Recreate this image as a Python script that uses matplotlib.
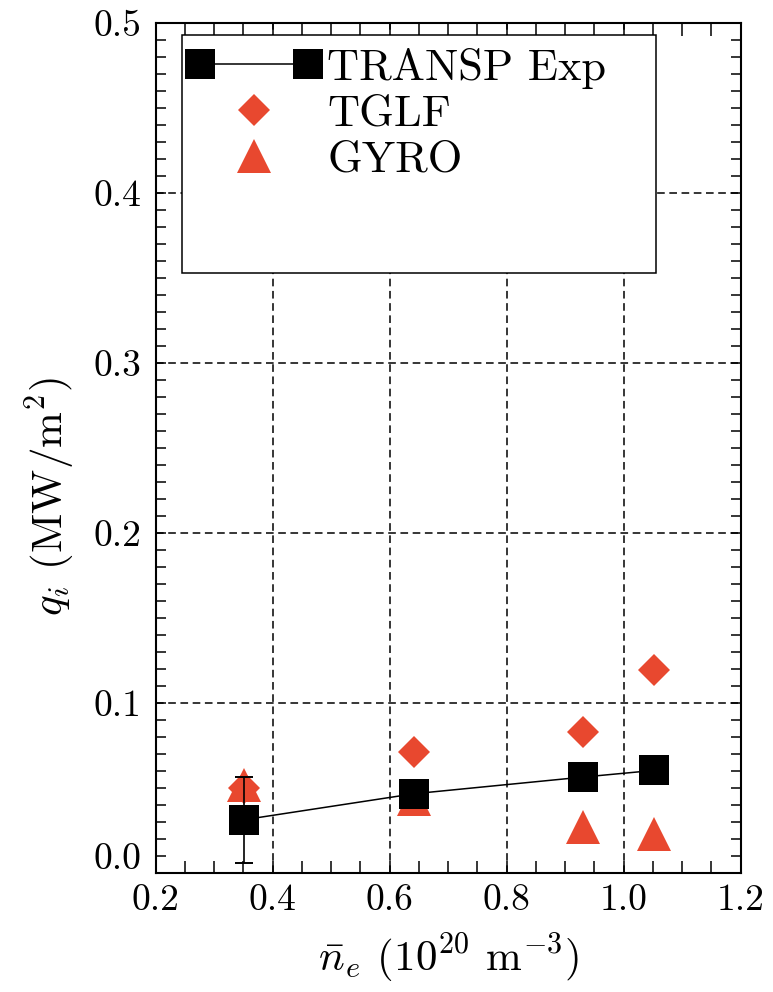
import numpy as np
import matplotlib
matplotlib.use('Agg')
import matplotlib.pyplot as plt
import matplotlib.transforms as mtransforms
from matplotlib.ticker import MultipleLocator
from matplotlib.legend_handler import HandlerLine2D
from matplotlib.patches import Rectangle

plt.rcParams['font.family'] = 'cmr10'
plt.rcParams['mathtext.fontset'] = 'cm'
plt.rcParams['axes.unicode_minus'] = False
plt.rcParams['axes.formatter.use_mathtext'] = True

# line averaged density, 10^20 m^-3
density = [0.351, 0.642, 0.931, 1.052]
# ion heat flux, MW/m^2
q_transp = [0.0313, 0.0466, 0.0564, 0.0603]
q_transp_err = [0.0252, np.nan, np.nan, np.nan]
q_tglf = [0.050, 0.0711, 0.0828, 0.1196]
q_gyro = [0.052, 0.0432, 0.0272, 0.0231]

x_ticks = [0.2, 0.4, 0.6, 0.8, 1.0, 1.2]
x_labels = ['0.2', '0.4', '0.6', '0.8', '1.0', '1.2']
y_ticks = [0.0, 0.1, 0.2, 0.3, 0.4, 0.5]
y_labels = ['0.0', '0.1', '0.2', '0.3', '0.4', '0.5']

red = '#e8482f'

fig = plt.figure(figsize=(7.73, 9.92), dpi=100)
ax = fig.add_axes([0.2014, 0.1200, 0.7568, 0.8572])

h_tglf, = ax.plot(density, q_tglf, ls='none', marker='D', ms=16.8, mew=0,
                  color=red, label='TGLF', zorder=3)
h_gyro, = ax.plot(density, q_gyro, ls='none', marker='^', ms=24.8, mew=0,
                  color=red, label='GYRO', zorder=3)
ax.errorbar(density, q_transp, yerr=q_transp_err, fmt='none', ecolor='black',
            elinewidth=1.2, capsize=6.8, capthick=1.4, zorder=4)
h_exp, = ax.plot(density, q_transp, color='black', lw=1.1, marker='s', ms=21.6,
                 mew=0, label='TRANSP Exp', zorder=4)

ax.set_xlim(0.2, 1.2)
ax.set_ylim(0, 0.5)
ax.set_xticks(x_ticks, labels=x_labels)
ax.set_yticks(y_ticks, labels=y_labels)
ax.xaxis.set_minor_locator(MultipleLocator(0.05))
ax.yaxis.set_minor_locator(MultipleLocator(0.01))

ax.grid(True, which='major', color='black', ls=(0, (5, 3)), lw=1.1)

ax.tick_params(which='both', direction='in', top=True, right=True,
               width=1.1, color='black')
ax.tick_params(axis='x', which='both', length=9)
ax.tick_params(axis='y', which='both', length=7)
ax.tick_params(axis='both', which='major', labelsize=27)
ax.tick_params(axis='y', which='major', pad=10)
ax.tick_params(axis='x', which='major', pad=8)
for s in ax.spines.values():
    s.set_linewidth(1.5)

# the 0.0 label sits a bit higher in the original
zero_label = ax.get_yticklabels()[0]
zero_label.set_transform(zero_label.get_transform() +
                         mtransforms.ScaledTranslation(0, 12 / 72, fig.dpi_scale_trans))

ax.set_ylabel(r'$q_i$ (MW/m$^2$)', fontsize=31, va='center')
ax.yaxis.set_label_coords(-0.181, 0.442)
ax.set_xlabel(r'$\bar{n}_e$ ($10^{20}$ m$^{-3}$)', fontsize=31, va='center')
ax.xaxis.set_label_coords(0.5, -0.1)

# legend box drawn by hand so its size matches
ax.add_patch(Rectangle((0.045, 0.7056), 0.8102, 0.2799, transform=ax.transAxes,
                       facecolor='white', edgecolor='black', lw=1.1, zorder=4.5))
ax.legend(handles=[h_exp, h_tglf, h_gyro],
          handler_map={h_tglf: HandlerLine2D(numpoints=1),
                       h_gyro: HandlerLine2D(numpoints=1)},
          numpoints=2, loc='upper left', bbox_to_anchor=(0.053, 0.9702),
          borderpad=0, borderaxespad=0, frameon=False, fontsize=32,
          handlelength=3.03, handletextpad=0.13, labelspacing=0.124)

fig.savefig('out.png', dpi=100)
